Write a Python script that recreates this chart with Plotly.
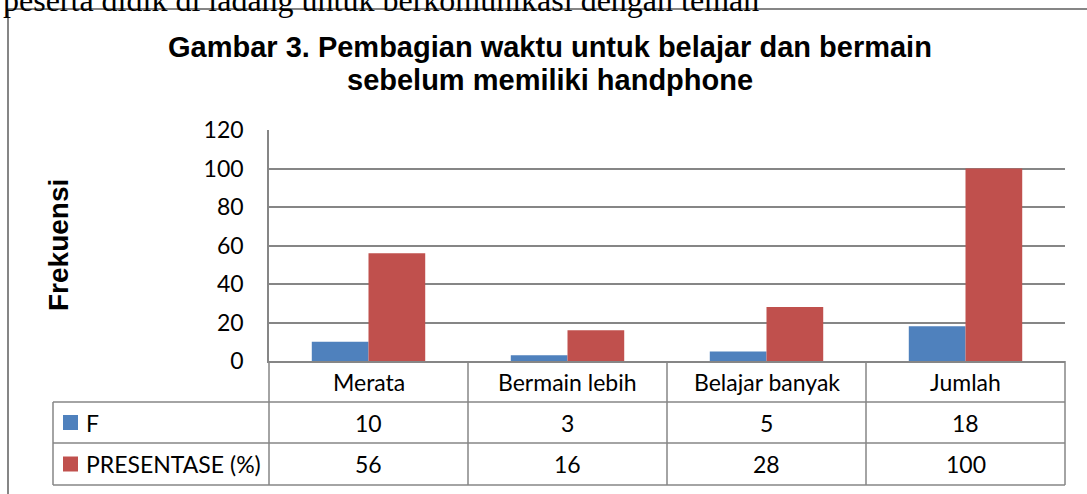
import plotly.graph_objects as go

# ---------------- data ----------------
categories = ["Merata", "Bermain lebih", "Belajar banyak", "Jumlah"]
f_values = [10, 3, 5, 18]
persen_values = [56, 16, 28, 100]
series_names = ["F", "PRESENTASE (%)"]
series_colors = ["#4F81BD", "#C0504D"]
y_ticks = [0, 20, 40, 60, 80, 100, 120]

title_lines = ["Gambar 3. Pembagian waktu untuk belajar dan bermain", "sebelum memiliki handphone"]
y_title = "Frekuensi"
top_text = "peserta didik di ladang untuk berkomunikasi dengan teman"

# ---------------- layout helpers ----------------
W, H = 1087, 494
L, R, T, B = 269, 22, 130, 133
PW = W - L - R
PH = H - T - B


def px(x):
    return (x - L) / PW


def py(y):
    return (H - B - y) / PH


GRID = "#868686"
TFONT = "Lato"
fig = go.Figure()
series_values = [f_values, persen_values]
for name, vals, col in zip(series_names, series_values, series_colors):
    fig.add_trace(go.Bar(x=categories, y=vals, name=name,
                         marker=dict(color=col, line=dict(width=0))))

shapes = []
annotations = []

# chart frame (top and left edges visible)
shapes.append(dict(type="line", xref="paper", yref="paper", x0=px(7), x1=px(W + 5),
                   y0=py(9), y1=py(9), line=dict(color=GRID, width=2)))
shapes.append(dict(type="line", xref="paper", yref="paper", x0=px(8), x1=px(8),
                   y0=py(9), y1=py(H + 5), line=dict(color=GRID, width=2)))

# data table grid
row_edges = [361, 402, 443, 485]
leg_left = 53
for yy in row_edges[1:]:
    shapes.append(dict(type="line", xref="paper", yref="paper", x0=px(leg_left), x1=1,
                       y0=py(yy), y1=py(yy), line=dict(color=GRID, width=1.5)))
shapes.append(dict(type="line", xref="paper", yref="paper", x0=px(leg_left), x1=px(leg_left),
                   y0=py(row_edges[1]), y1=py(row_edges[-1]), line=dict(color=GRID, width=1.5)))
for xv in [0, 1]:
    shapes.append(dict(type="line", xref="paper", yref="paper", x0=xv, x1=xv,
                       y0=py(row_edges[0]), y1=py(row_edges[-1]), line=dict(color=GRID, width=1.5)))
for i in range(len(categories) - 1):
    shapes.append(dict(type="line", xref="x", yref="paper", x0=i + 0.5, x1=i + 0.5,
                       y0=py(row_edges[0]), y1=py(row_edges[-1]), line=dict(color=GRID, width=1.5)))

cell_font = dict(family=TFONT, size=23, color="black")
row_centers = [(row_edges[k] + row_edges[k + 1]) / 2 for k in range(3)]
for i, c in enumerate(categories):
    annotations.append(dict(x=i, y=py(row_centers[0]), xref="x", yref="paper", text=c,
                            showarrow=False, font=cell_font, xanchor="center", yanchor="middle"))
for r, (name, vals, col) in enumerate(zip(series_names, series_values, series_colors)):
    yc = row_centers[r + 1]
    for i, v in enumerate(vals):
        annotations.append(dict(x=i, y=py(yc), xref="x", yref="paper", text=str(v),
                                showarrow=False, font=cell_font, xanchor="center", yanchor="middle"))
    annotations.append(dict(x=px(84), y=py(yc), xref="paper", yref="paper", text=name,
                            showarrow=False, font=cell_font, xanchor="left", yanchor="middle"))
    shapes.append(dict(type="rect", xref="paper", yref="paper", x0=px(63), x1=px(78),
                       y0=py(yc - 7.5), y1=py(yc + 7.5), fillcolor=col, line=dict(width=0)))

# title (two lines, tighter spacing)
title_font = dict(family="Liberation Sans", size=29, color="black")
for line, yc in zip(title_lines, [47, 80]):
    annotations.append(dict(x=px(549.5), y=py(yc), xref="paper", yref="paper", text="<b>" + line + "</b>",
                            showarrow=False, font=title_font, xanchor="center", yanchor="middle"))

# axis title
annotations.append(dict(x=px(58), y=py(245), xref="paper", yref="paper", text="<b>" + y_title + "</b>",
                        textangle=-90, showarrow=False,
                        font=dict(family="Liberation Sans", size=28, color="black"),
                        xanchor="center", yanchor="middle"))
# body text cut at top
annotations.append(dict(x=px(1), y=py(20), xref="paper", yref="paper", text=top_text,
                        showarrow=False, font=dict(family="Liberation Serif", size=32, color="black"),
                        xanchor="left", yanchor="bottom"))

fig.update_layout(
    width=W, height=H,
    margin=dict(l=L, r=R, t=T, b=B),
    paper_bgcolor="white", plot_bgcolor="white",
    showlegend=False,
    barmode="group", bargap=0.43, bargroupgap=0,
    xaxis=dict(range=[-0.5, 3.5], showticklabels=False, showgrid=False, ticks="",
               showline=True, linecolor=GRID, linewidth=1.5, fixedrange=True),
    yaxis=dict(range=[0, 120], tickvals=y_ticks, showgrid=True, gridcolor=GRID, gridwidth=1.5,
               showline=True, linecolor=GRID, linewidth=1.5, zeroline=False, ticks="",
               tickfont=dict(family=TFONT, size=23, color="black"), ticklabelstandoff=19),
    shapes=shapes,
    annotations=annotations,
)

fig.write_html("out.html", config={"displayModeBar": False},
               post_script="document.body.style.margin='0';document.body.style.overflow='hidden';")
